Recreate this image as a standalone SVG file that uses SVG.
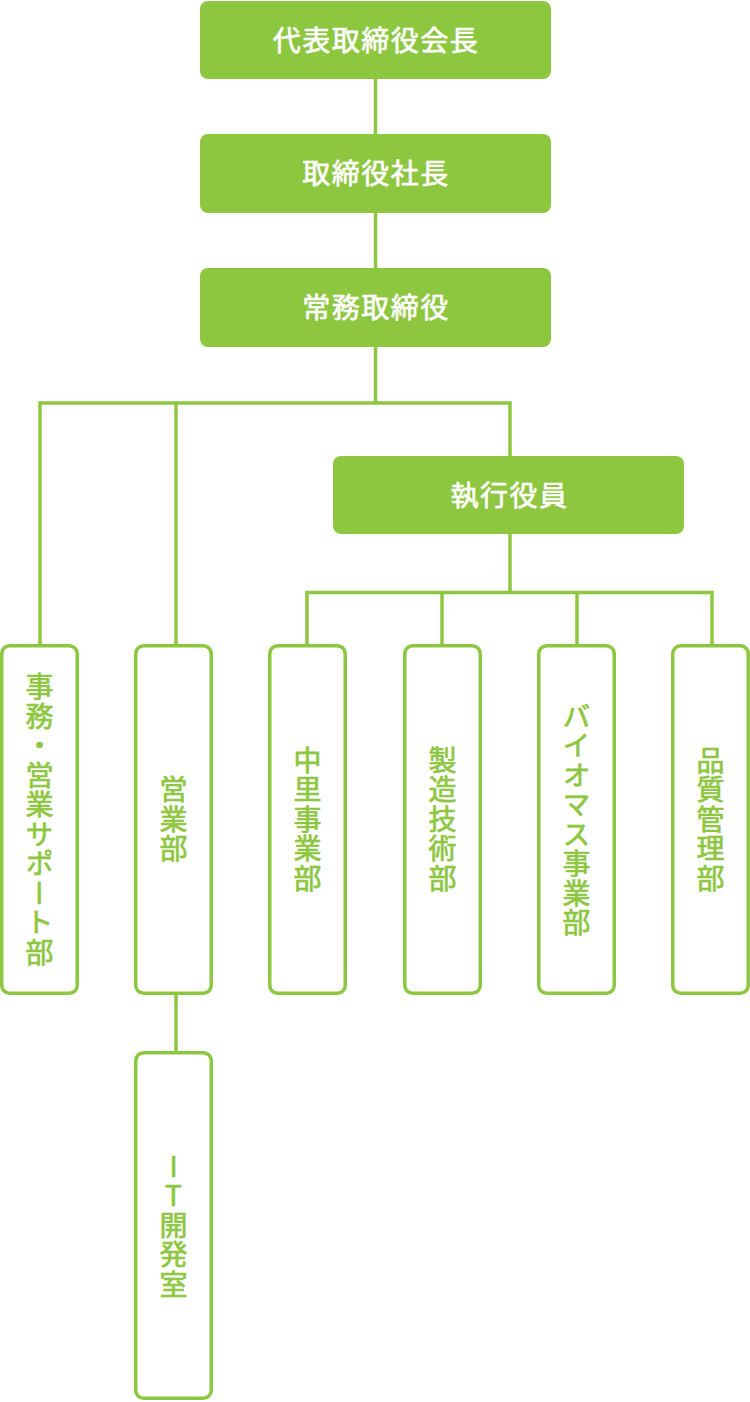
<svg xmlns="http://www.w3.org/2000/svg" width="750" height="1402" viewBox="0 0 750 1402">
<style>
.fbox{fill:#8DC63F}
.obox{fill:#FFFFFF;stroke:#8DC63F;stroke-width:3.5}
.conn{fill:none;stroke:#8DC63F;stroke-width:3.5;stroke-linejoin:miter}
.ht{font-family:"Noto Sans CJK JP","Noto Sans CJK SC",sans-serif;font-size:28px;font-weight:400;fill:#FFFFFF;stroke:#FFFFFF;stroke-width:0.7px;text-anchor:middle;letter-spacing:1.5px}
.vt{font-family:"Noto Sans CJK JP","Noto Sans CJK SC",sans-serif;font-size:28px;font-weight:400;fill:#8DC63F;stroke:#8DC63F;stroke-width:0.7px;text-anchor:middle;writing-mode:vertical-rl;letter-spacing:1.5px}
.up{text-orientation:upright}
</style>
<rect width="750" height="1402" fill="#FFFFFF"/>
<g id="connectors">
<path class="conn" d="M375.5 79V134"/>
<path class="conn" d="M375.5 213V268"/>
<path class="conn" d="M375.5 347V403"/>
<path class="conn" d="M40 645V403H510V456"/>
<path class="conn" d="M176 403V645"/>
<path class="conn" d="M510 534V592.5"/>
<path class="conn" d="M307 645V592.5H712V645"/>
<path class="conn" d="M442 592.5V645"/>
<path class="conn" d="M577 592.5V645"/>
<path class="conn" d="M176 994V1051"/>
</g>
<g id="chairman">
<rect class="fbox" x="200" y="1" width="351" height="78" rx="8"/>
<text class="ht" x="376" y="50.5">代表取締役会長</text>
</g>
<g id="president">
<rect class="fbox" x="200" y="134" width="351" height="79" rx="8"/>
<text class="ht" x="376" y="184">取締役社長</text>
</g>
<g id="managing-director">
<rect class="fbox" x="200" y="268" width="351" height="79" rx="8"/>
<text class="ht" x="376" y="318">常務取締役</text>
</g>
<g id="executive-officer">
<rect class="fbox" x="333" y="456" width="351" height="78" rx="8"/>
<text class="ht" x="509.5" y="505.5">執行役員</text>
</g>
<g id="admin-sales-support">
<rect class="obox" x="1.75" y="645.75" width="75.5" height="347.5" rx="8"/>
<text class="vt" x="39.5" y="820">事務・営業サポート部</text>
</g>
<g id="sales">
<rect class="obox" x="135.75" y="645.75" width="75.5" height="347.5" rx="8"/>
<text class="vt" x="173.5" y="820">営業部</text>
</g>
<g id="nakazato">
<rect class="obox" x="269.75" y="645.75" width="75.5" height="347.5" rx="8"/>
<text class="vt" x="307.5" y="820">中里事業部</text>
</g>
<g id="manufacturing-tech">
<rect class="obox" x="404.75" y="645.75" width="75.5" height="347.5" rx="8"/>
<text class="vt" x="442.5" y="820">製造技術部</text>
</g>
<g id="biomass">
<rect class="obox" x="538.75" y="645.75" width="75.5" height="347.5" rx="8"/>
<text class="vt" x="576.5" y="820">バイオマス事業部</text>
</g>
<g id="quality">
<rect class="obox" x="672.75" y="645.75" width="75.5" height="347.5" rx="8"/>
<text class="vt" x="710.5" y="820">品質管理部</text>
</g>
<g id="it-dev">
<rect class="obox" x="135.75" y="1052.75" width="75.5" height="345.5" rx="8"/>
<text class="vt up" x="173.5" y="1226">IT開発室</text>
</g>
</svg>
